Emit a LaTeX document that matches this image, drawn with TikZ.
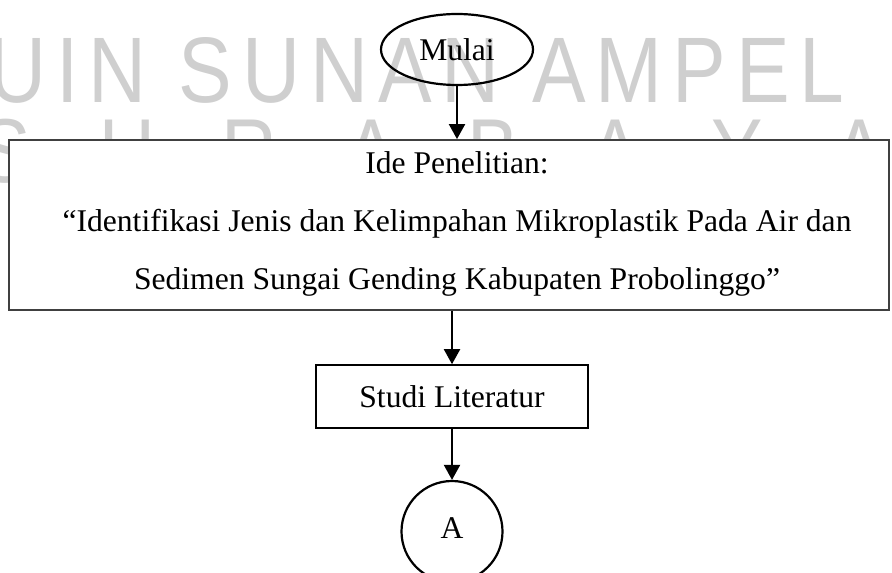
\documentclass[tikz,border=0pt]{standalone}
\usepackage{fontspec}
\setmainfont{Liberation Serif}
\newfontfamily\wmfont{Liberation Sans}[FakeStretch=0.85,LetterSpace=10.5]
\usetikzlibrary{arrows.meta,shapes.geometric}
\tikzset{
  flow/.style={line width=1pt,-{Triangle[length=7.5pt,width=8pt]}},
  txt/.style={font=\fontsize{15.8}{29}\selectfont},
  wmark/.style={text=black!19,font=\fontsize{45.4}{50}\wmfont,inner sep=0,anchor=base},
  procbox/.style={draw,line width=0.8pt,fill=white,inner sep=0,txt},
}
\begin{document}
\begin{tikzpicture}[x=0.5pt,y=-0.5pt]
\useasboundingbox (0,0) rectangle (892,572);
\clip (0,0) rectangle (892,572);

% background watermark
\node[wmark,anchor=base west] (wmtop) at (-12,103) {\resizebox{428pt}{32.5pt}{UIN SUNAN AMPEL}};
\foreach \ch [count=\i] in {S,U,R,A,B,A,Y,A}
  \node[wmark] (wm\i) at ({5+122*(\i-1)},183) {\ch};

% flowchart
\node[ellipse,draw,line width=1.1pt,minimum width=76pt,minimum height=35.5pt,inner sep=0,txt]
  (mulai) at (457,49.5) {Mulai};
\node[procbox,draw=black!75,line width=0.9pt,minimum width=440pt,minimum height=85pt]
  (ide) at (449,225) {};
\node[txt,align=center,inner sep=0] (idetxt) at (457,224)
  {Ide Penelitian:\\“Identifikasi Jenis dan Kelimpahan Mikroplastik Pada Air dan\\Sedimen Sungai Gending Kabupaten Probolinggo”};
\node[procbox,minimum width=136pt,minimum height=31.5pt] (studi) at (452,396.5) {Studi Literatur};
\node[circle,draw,line width=1.1pt,minimum size=50.5pt,inner sep=0,txt]
  (a) at (452,531.5) {\raisebox{3.3pt}{A}};

\draw[flow] (mulai.south) -- (mulai.south |- ide.north);
\draw[flow] (studi.north |- ide.south) -- (studi.north);
\draw[flow] (studi.south) -- (a.north);
\end{tikzpicture}
\end{document}
